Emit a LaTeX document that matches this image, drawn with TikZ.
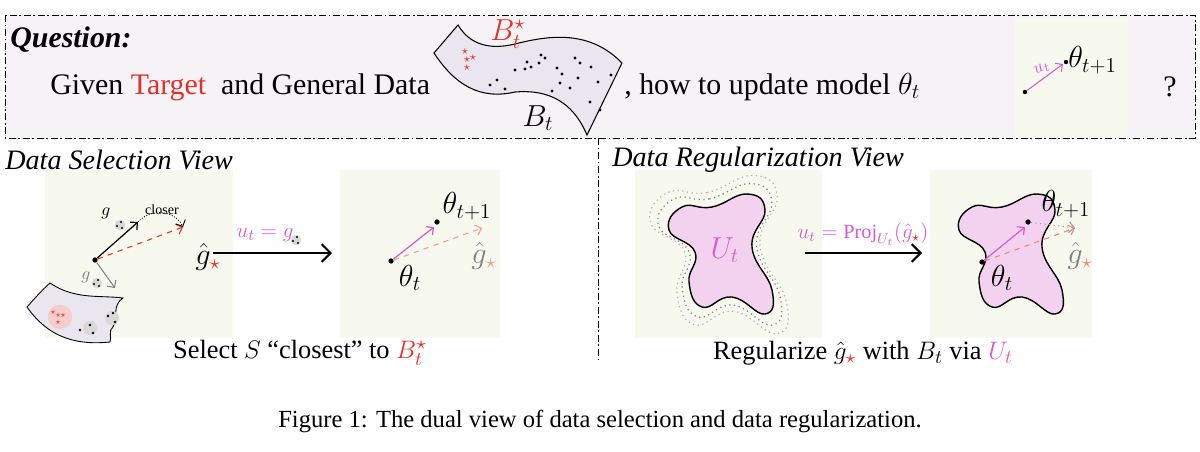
\documentclass[tikz,border=0pt]{standalone}
\usepackage{amsmath}
\usepackage{fontspec}
\setmainfont{Liberation Serif}
\usetikzlibrary{arrows.meta}
\definecolor{qbg}{HTML}{F5F3F6}
\definecolor{pbg}{HTML}{F7F9EE}
\definecolor{mag}{HTML}{D65CC8}
\definecolor{blobfill}{HTML}{F3D2F0}
\definecolor{bandfill}{HTML}{E9E6F0}
\definecolor{tred}{HTML}{E0322C}
\tikzset{
  txt/.style={font=\fontsize{17}{20}\selectfont, inner sep=0pt},
  btxt/.style={font=\fontsize{15}{18}\selectfont, inner sep=0pt},
  pt/.style={circle, fill=black, inner sep=0pt, minimum size=3.5pt},
  sdot/.style={circle, fill=black, inner sep=0pt, minimum size=2pt},
  panel/.style={fill=pbg, draw=none},
  dd/.style={dash pattern=on 4pt off 1.5pt on 1pt off 1.5pt, line width=0.5pt},
  arr/.style={-{Straight Barb[length=3pt]}},
}
\newcommand{\blobpath}{plot[smooth cycle, tension=0.8] coordinates {(-45,-45) (-15,-45) (20,-58) (38,-42) (25,-5) (45,38) (38,62) (5,45) (-25,55) (-38,30) (-32,0) (-58,-22)}}
\begin{document}
\begin{tikzpicture}[x=0.02cm,y=-0.02cm]
\useasboundingbox (0,0) rectangle (1200,451);
% top box
\path[fill=qbg] (5,15) rectangle (1195,138);
\draw[dd] (5,15) rectangle (1195,138);
\path[fill=pbg] (1015,18) rectangle (1128,136);
\node[txt, anchor=west, font=\fontsize{17}{20}\selectfont\bfseries\itshape] (q) at (10,40) {Question:};
\node[txt, anchor=west] (given) at (50,87) {Given \textcolor{tred}{Target}\ \ and General Data};
% band
\draw[fill=bandfill, line width=0.6pt] (434,53) -- (458,25) .. controls (470,45) and (490,50) .. (515,44) .. controls (550,35) and (590,30) .. (622,63) -- (587,135) .. controls (570,95) and (540,90) .. (515,92) .. controls (480,100) and (455,85) .. (434,53) -- cycle;
\foreach \p in {(465,52),(467,60),(473,58),(467,68)} \node[text=tred, inner sep=0pt, font=\scriptsize] at \p {$\star$};
\foreach \p in {(490,85),(497,80),(505,89),(515,70),(525,69),(531,67),(539,63),(545,58),(557,68),(560,83),(562,74),(575,58),(570,88),(578,78),(580,63),(591,67),(590,102),(600,110),(598,82),(611,75),(541,55),(527,62),(552,91)} \node[sdot, minimum size=1.8pt] at \p {};
\node[txt, text=tred] (bs) at (508,34) {$B_t^\star$};
\node[txt] (bt) at (538,118) {$B_t$};
\node[txt, anchor=west] (how) at (624,87) {, how to update model $\theta_t$};
\node[sdot, minimum size=2.5pt] (t0) at (1025,92) {};
\node[sdot, minimum size=2.5pt] (t1) at (1066,62) {};
\draw[mag, arr, line width=0.6pt] (t0) -- (1063,64);
\node[txt, text=mag, rotate=25, font=\normalsize] at (1042,69) {$u_t$};
\node[txt, anchor=west] (th1) at (1068,60) {$\theta_{t+1}$};
\node[txt] (qm) at (1170,87) {?};
% divider
\coordinate (d1) at (598,138); \coordinate (d2) at (598,362);
\draw[dd] (d1) -- (d2);
% panel backgrounds
\path[panel] (45,170) rectangle (233,338);
\path[panel] (340,170) rectangle (500,338);
\path[panel] (635,170) rectangle (822,338);
\path[panel] (930,170) rectangle (1092,338);
\node[txt, anchor=west, font=\fontsize{16}{19}\selectfont\itshape] (v1) at (5,160) {Data Selection View};
\node[txt, anchor=west, font=\fontsize{16}{19}\selectfont\itshape] (v2) at (612,160) {Data Regularization View};
% panel 1
\draw[fill=bandfill, line width=0.5pt] (27,307) .. controls (35,298) and (42,290) .. (50,283) .. controls (75,300) and (100,295) .. (123,298) .. controls (112,305) and (118,318) .. (113,327) .. controls (108,330) and (112,338) .. (110,342) .. controls (80,345) and (50,340) .. (27,307) -- cycle;
\fill[tred!25] (60,317) circle (7pt);
\fill[black!15] (90,328) circle (4pt);
\fill[black!15] (112,318) circle (4pt);
\foreach \p in {(53,312),(58,315),(63,315),(58,322)} \node[text=tred, inner sep=0pt, font=\tiny] at \p {$\star$};
\foreach \p in {(80,330),(90,325),(93,333),(108,316),(113,313),(115,322)} \node[sdot, minimum size=1.6pt] at \p {};
\node[pt, minimum size=3pt] (o) at (95,260) {};
\coordinate (ge) at (138,222);
\coordinate (gs) at (183,227);
\coordinate (gg) at (115,288);
\draw[arr, line width=0.7pt] (o) -- (ge);
\draw[tred, dashed, arr, line width=0.6pt] (o) -- (gs);
\draw[densely dotted, arr, line width=0.5pt] (ge) .. controls (150,208) and (175,210) .. (gs);
\node[txt, font=\footnotesize] at (162,210) {closer};
\draw[gray, arr, line width=0.6pt] (o) -- (gg);
\node[txt, font=\normalsize] at (106,213) {$g$};
\fill[black!15] (120,225) circle (3pt);
\foreach \p in {(117,226),(122,228),(121,222)} \node[sdot, minimum size=1.2pt] at \p {};
\node[txt, font=\normalsize, text=gray] at (86,277) {$g$};
\fill[black!15] (97,283) circle (3pt);
\foreach \p in {(94,284),(99,286),(98,280)} \node[sdot, minimum size=1.2pt] at \p {};
\node[txt] (gh1) at (208,257) {$\hat g_{\textcolor{tred}{\star}}$};
% arrow 1
\coordinate (a1s) at (213,253); \coordinate (a1e) at (332,253);
\draw[-{Straight Barb[length=5pt]}, line width=1.2pt] (a1s) -- (a1e);
\node[txt, text=mag, font=\fontsize{12.5}{14}\selectfont] (l1) at (265,235) {$u_t = g$};
\fill[black!15] (296,240) circle (3pt);
\foreach \p in {(293,241),(298,243),(297,237)} \node[sdot, minimum size=1.2pt] at \p {};
% panel 2
\node[pt, minimum size=3pt] (p0) at (391,261) {};
\node[pt, minimum size=3pt] (p1) at (437,222) {};
\coordinate (p2) at (482,228);
\draw[tred!50, dashed, arr, line width=0.6pt] (p0) -- (p2);
\draw[mag, arr, line width=0.7pt] (p0) -- (434,227);
\node[txt] at (467,206) {$\theta_{t+1}$};
\node[txt] at (410,278) {$\theta_t$};
\node[txt, text=gray] at (484,256) {$\hat g_{\textcolor{tred!50}{\star}}$};
\node[btxt] (sel) at (300,353) {Select $S$ “closest” to \textcolor{tred}{$B_t^\star$}};
% panel 3
\begin{scope}[shift={(727,252)}]
\draw[black!30, dotted, line width=0.7pt, scale=1.32] \blobpath;
\draw[black!50, dotted, line width=0.7pt, scale=1.18] \blobpath;
\draw[fill=blobfill, line width=0.8pt] \blobpath;
\end{scope}
\node[txt, text=mag, font=\fontsize{18}{20}\selectfont] (ut) at (725,250) {$U_t$};
\coordinate (a2s) at (805,253); \coordinate (a2e) at (922,253);
\draw[-{Straight Barb[length=5pt]}, line width=1.2pt] (a2s) -- (a2e);
\node[txt, text=mag, font=\fontsize{11.5}{14}\selectfont] (l2) at (863,234) {$u_t = \mathrm{Proj}_{U_t}(\hat g_{\textcolor{tred}{\star}})$};
% panel 4
\begin{scope}[shift={(1017,252)}]
\draw[fill=blobfill, line width=0.8pt] \blobpath;
\end{scope}
\node[pt, minimum size=3pt] (r0) at (982,262) {};
\node[pt, minimum size=3pt] (r1) at (1028,222) {};
\coordinate (r2) at (1075,228);
\draw[tred!60, dashed, arr, line width=0.6pt] (r0) -- (r2);
\draw[black!40, dotted, arr, line width=0.6pt] (r1) -- (r2);
\draw[mag, arr, line width=0.7pt] (r0) -- (1025,227);
\node[txt] at (1066,204) {$\theta_{t+1}$};
\node[txt] at (1002,278) {$\theta_t$};
\node[txt, text=gray] at (1080,256) {$\hat g_{\textcolor{tred!60}{\star}}$};
\node[btxt] (reg) at (863,353) {Regularize $\hat g_{\textcolor{tred}{\star}}$ with $B_t$ via \textcolor{mag}{$U_t$}};
% caption
\node[txt, font=\fontsize{14}{17}\selectfont] (cap) at (600,421) {Figure 1: The dual view of data selection and data regularization.};
\end{tikzpicture}
\end{document}
